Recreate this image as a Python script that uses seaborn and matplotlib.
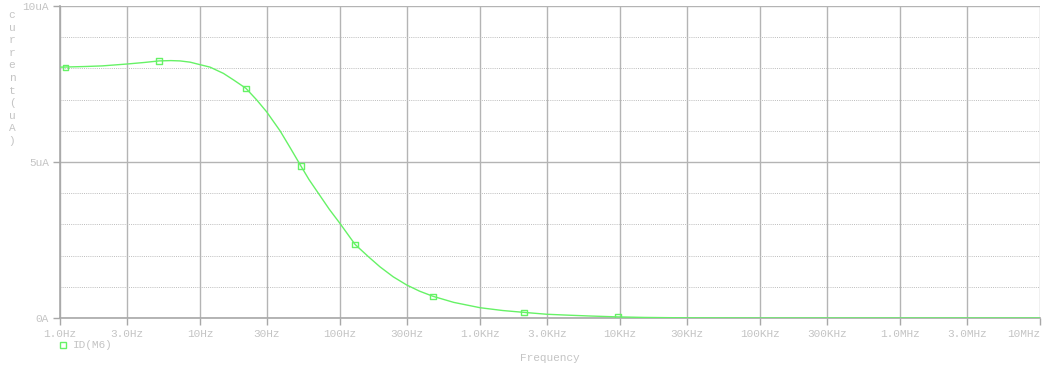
import numpy as np
import pandas as pd
import matplotlib
matplotlib.use("Agg")
import matplotlib.pyplot as plt
import seaborn as sns
from matplotlib.ticker import FixedLocator, NullFormatter

# Drain current of M6 versus frequency (AC sweep)
freq_hz = [1.0, 1.5, 2.0, 3.0, 4.0, 5.1, 6.2, 7.2, 8.5, 10.0, 11.8, 14.7, 17.5,
           21.3, 25.4, 29.9, 37.3, 43.9, 52.6, 60.0, 70.0, 84.0, 100.0, 128.0,
           160.0, 193.0, 240.0, 299.0, 370.0, 462.0, 650.0, 1000.0, 1450.0,
           2062.0, 2995.0, 4300.0, 6105.0, 9680.0, 15000.0, 30000.0, 100000.0,
           1e6, 1e7]
id_ua = [8.04, 8.06, 8.08, 8.14, 8.19, 8.24, 8.25, 8.24, 8.20, 8.12, 8.04, 7.84, 7.62,
         7.36, 6.99, 6.61, 6.00, 5.47, 4.87, 4.44, 4.00, 3.48, 3.03, 2.36,
         1.96, 1.64, 1.32, 1.06, 0.86, 0.695, 0.50, 0.33, 0.24,
         0.18, 0.12, 0.09, 0.064, 0.035, 0.018, 0.005, 0.0,
         0.0, 0.0]

# Symbol positions along the trace
marker_freq = [1.1, 5.1, 21.3, 52.6, 128.0, 462.0, 2062.0, 9680.0]
marker_ua = [8.04, 8.24, 7.36, 4.87, 2.36, 0.695, 0.18, 0.035]

x_ticks = [1, 3, 10, 30, 100, 300, 1e3, 3e3, 1e4, 3e4, 1e5, 3e5, 1e6, 3e6, 1e7]
x_labels = ["1.0Hz", "3.0Hz", "10Hz", "30Hz", "100Hz", "300Hz", "1.0KHz", "3.0KHz",
            "10KHz", "30KHz", "100KHz", "300KHz", "1.0MHz", "3.0MHz", "10MHz"]
y_ticks = [0, 5, 10]
y_labels = ["0A", "5uA", "10uA"]
y_minor = [1, 2, 3, 4, 6, 7, 8, 9]

GREEN = "#66f266"
GRID = "#b4b4b4"
TXT = "#c4c4c4"
MONO = "Liberation Mono"
FS = 8

sns.set_theme(style="white")
plt.rcParams["font.family"] = [MONO, "DejaVu Sans"]

fig = plt.figure(figsize=(10.42, 3.72), dpi=100)
ax = fig.add_axes([60 / 1042, 1 - 318 / 372, 980 / 1042, 312 / 372])

df = pd.DataFrame({"freq": freq_hz, "id": id_ua})
mk = pd.DataFrame({"freq": marker_freq, "id": marker_ua})

ax.set_xscale("log")
sns.lineplot(data=df, x="freq", y="id", ax=ax, color=GREEN, linewidth=1.0,
             estimator=None, zorder=3)
sns.scatterplot(data=mk, x="freq", y="id", ax=ax, marker="s", s=14,
                facecolor="none", edgecolor=GREEN, linewidth=1.0, zorder=4)

ax.set_xlim(1, 1e7)
ax.set_ylim(0, 10)

ax.xaxis.set_major_locator(FixedLocator(x_ticks))
ax.set_xticklabels(x_labels)
ax.xaxis.set_minor_locator(FixedLocator([]))
ax.xaxis.set_minor_formatter(NullFormatter())
ax.yaxis.set_major_locator(FixedLocator(y_ticks))
ax.set_yticklabels(y_labels)
ax.yaxis.set_minor_locator(FixedLocator(y_minor))

ax.grid(True, which="major", axis="both", color=GRID, linewidth=1.0, linestyle="-")
ax.grid(True, which="minor", axis="y", color="#bdbdbd", linewidth=0.7,
        linestyle=(0, (1, 1.2)))
ax.set_axisbelow(True)

for side in ["top", "right"]:
    ax.spines[side].set_visible(False)
for side in ["left", "bottom"]:
    ax.spines[side].set_color("#a8a8a8")
    ax.spines[side].set_linewidth(1.2)

ax.tick_params(axis="both", which="major", direction="out", length=5, width=1,
               color="#a8a8a8", labelcolor=TXT, labelsize=FS, pad=3, bottom=True, left=True)
ax.tick_params(axis="y", which="minor", length=0)

# keep the last frequency label inside the figure
ax.get_xticklabels()[-1].set_horizontalalignment("right")

ax.set_xlabel("")
ax.set_ylabel("")

# Vertical, letter-by-letter axis title
ylab = "current(uA)"
for i, ch in enumerate(ylab):
    fig.text(12 / 1042, 1 - (15 + i * 12.6) / 372, ch, fontsize=FS, color=TXT,
             family=MONO, ha="center", va="center")

fig.text(550 / 1042, 1 - 358 / 372, "Frequency", fontsize=FS, color=TXT,
         family=MONO, ha="center", va="center")

# Trace legend
fig.lines.append(plt.Line2D([63 / 1042], [1 - 345 / 372], transform=fig.transFigure,
                            marker="s", markersize=4, markerfacecolor="none",
                            markeredgecolor=GREEN, markeredgewidth=1.0, linestyle="none"))
fig.text(73 / 1042, 1 - 345 / 372, "ID(M6)", fontsize=FS, color=TXT,
         family=MONO, ha="left", va="center")

fig.savefig("out.png", dpi=100, facecolor="white")
